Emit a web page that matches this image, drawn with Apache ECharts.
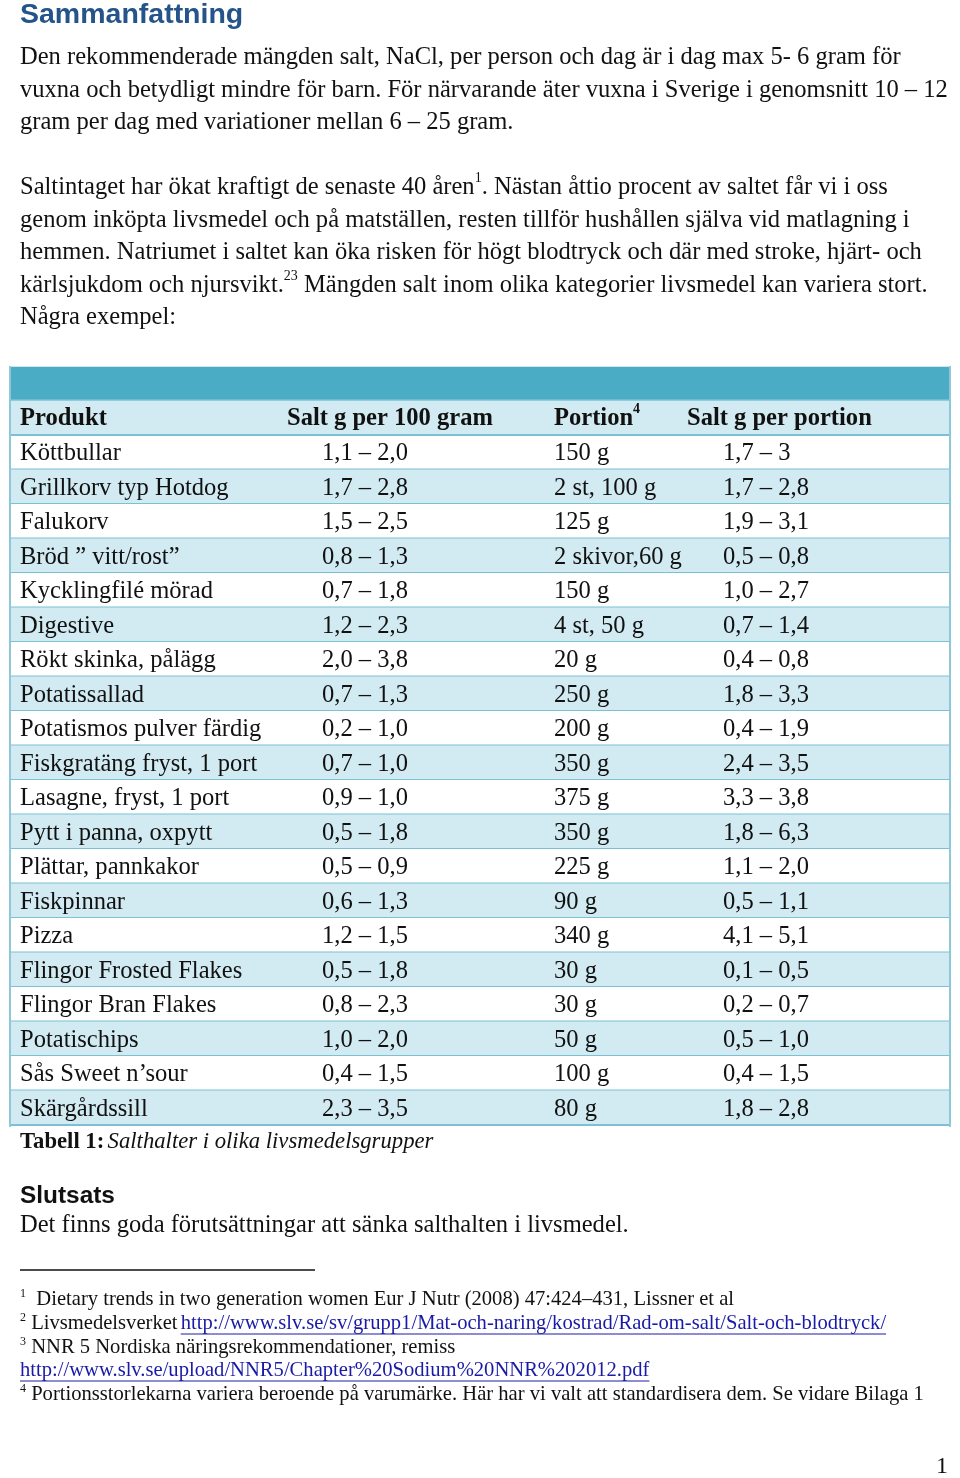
<!DOCTYPE html>
<html><head><meta charset="utf-8">
<script src="https://cdn.jsdelivr.net/npm/echarts@6/dist/echarts.min.js"></script>
<style>html,body{margin:0;padding:0;background:#fff}#c{width:960px;height:1478px}</style>
</head><body><div id="c"></div>
<script>
// ---- data ----
const products = ['Köttbullar','Grillkorv typ Hotdog','Falukorv','Bröd ” vitt/rost”','Kycklingfilé mörad','Digestive','Rökt skinka, pålägg','Potatissallad','Potatismos pulver färdig','Fiskgratäng fryst, 1 port','Lasagne, fryst, 1 port','Pytt i panna, oxpytt','Plättar, pannkakor','Fiskpinnar','Pizza','Flingor Frosted Flakes','Flingor Bran Flakes','Potatischips','Sås Sweet n’sour','Skärgårdssill'];
const saltPer100 = ['1,1 – 2,0','1,7 – 2,8','1,5 – 2,5','0,8 – 1,3','0,7 – 1,8','1,2 – 2,3','2,0 – 3,8','0,7 – 1,3','0,2 – 1,0','0,7 – 1,0','0,9 – 1,0','0,5 – 1,8','0,5 – 0,9','0,6 – 1,3','1,2 – 1,5','0,5 – 1,8','0,8 – 2,3','1,0 – 2,0','0,4 – 1,5','2,3 – 3,5'];
const portions = ['150 g','2 st, 100 g','125 g','2 skivor,60 g','150 g','4 st, 50 g','20 g','250 g','200 g','350 g','375 g','350 g','225 g','90 g','340 g','30 g','30 g','50 g','100 g','80 g'];
const saltPerPortion = ['1,7 – 3','1,7 – 2,8','1,9 – 3,1','0,5 – 0,8','1,0 – 2,7','0,7 – 1,4','0,4 – 0,8','1,8 – 3,3','0,4 – 1,9','2,4 – 3,5','3,3 – 3,8','1,8 – 6,3','1,1 – 2,0','0,5 – 1,1','4,1 – 5,1','0,1 – 0,5','0,2 – 0,7','0,5 – 1,0','0,4 – 1,5','1,8 – 2,8'];
const headers = ['Produkt','Salt g per 100 gram','Portion','Salt g per portion'];

// ---- style ----
const SERIF = '"Liberation Serif","Times New Roman",serif';
const SANS = '"Liberation Sans",Arial,sans-serif';
const FS = 24.55;
const INK = '#111';
const BAND = '#4bacc6', LIGHT = '#d2eaf1', RULE = '#7cc0d3';
const colX = [10, 312, 544, 713]; // offsets from table left
const supStyle = {fontSize: 14, fontFamily: SERIF, fill: INK, verticalAlign: 'top', lineHeight: 22};

const ctx = document.createElement('canvas').getContext('2d');
function tw(t, f){ ctx.font = f; return ctx.measureText(t).width; }

const para1 = 'Den rekommenderade mängden salt, NaCl, per person och dag är i dag max 5- 6 gram för\n' +
  'vuxna och betydligt mindre för barn. För närvarande äter vuxna i Sverige i genomsnitt 10 – 12\n' +
  'gram per dag med variationer mellan 6 – 25 gram.';
const para2 = 'Saltintaget har ökat kraftigt de senaste 40 åren{s|1}. Nästan åttio procent av saltet får vi i oss\n' +
  'genom inköpta livsmedel och på matställen, resten tillför hushållen själva vid matlagning i\n' +
  'hemmen. Natriumet i saltet kan öka risken för högt blodtryck och där med stroke, hjärt- och\n' +
  'kärlsjukdom och njursvikt.{s|23} Mängden salt inom olika kategorier livsmedel kan variera stort.\n' +
  'Några exempel:';

const FN = 20.6;
const fnFont = FN + 'px ' + SERIF;
const link1 = 'http://www.slv.se/sv/grupp1/Mat-och-naring/kostrad/Rad-om-salt/Salt-och-blodtryck/';
const link2 = 'http://www.slv.se/upload/NNR5/Chapter%20Sodium%20NNR%202012.pdf';
const fnSup = {fontSize: 12, fontFamily: SERIF, fill: INK, verticalAlign: 'top', lineHeight: 18};
const link1X = 18 + tw('2', '12px ' + SERIF) + tw(' Livsmedelsverket ', fnFont);
const LINK = '#1a1aa8';

function txt(x, y, text, font, extra){
  return Object.assign({type:'text', x, y, z: 20, style: Object.assign({text, font, fill: INK, verticalAlign:'middle'}, extra||{})});
}

const graphics = [
  txt(20, 15.5, 'Sammanfattning', 'bold 28.5px ' + SANS, {fill:'#24548a'}),
  {type:'text', x:20, y:41.75, z:20, style:{text: para1, fontSize: FS, fontFamily: SERIF, fill: INK, lineHeight: 32.5, verticalAlign:'top'}},
  {type:'text', x:20, y:171.75, z:20, style:{text: para2, fontSize: FS, fontFamily: SERIF, fill: INK, lineHeight: 32.5, verticalAlign:'top', rich:{s: supStyle}}},
  // table header
  {type:'rect', z:5, shape:{x:10, y:367, width:940, height:33}, style:{fill: BAND}},
  {type:'rect', z:5, shape:{x:10, y:400, width:940, height:35}, style:{fill: LIGHT}},
  {type:'line', z:15, shape:{x1:10, y1:366.5, x2:950, y2:366.5}, style:{stroke:'#cfe7ef', lineWidth:1}},
  {type:'line', z:15, shape:{x1:10, y1:400, x2:950, y2:400}, style:{stroke: RULE, lineWidth:1.5}},
  {type:'line', z:15, shape:{x1:10, y1:435, x2:950, y2:435}, style:{stroke: RULE, lineWidth:2}},
  {type:'line', z:15, shape:{x1:10, y1:366, x2:10, y2:1127}, style:{stroke: '#8ec8d8', lineWidth:2}},
  {type:'line', z:15, shape:{x1:950, y1:366, x2:950, y2:1127}, style:{stroke: '#8ec8d8', lineWidth:2}},
  txt(10 + colX[0], 418.5, headers[0], 'bold ' + FS + 'px ' + SERIF),
  txt(287, 418.5, headers[1], 'bold ' + FS + 'px ' + SERIF),
  {type:'text', x:554, y:418.5, z:20, style:{text: headers[2] + '{s|4}', font:'bold ' + FS + 'px ' + SERIF, fill: INK, verticalAlign:'middle', lineHeight: 32, rich:{s:{fontSize:14, fontWeight:'bold', fontFamily: SERIF, fill: INK, verticalAlign:'top', lineHeight: 20}}}},
  txt(687, 418.5, headers[3], 'bold ' + FS + 'px ' + SERIF),
  // caption
  {type:'text', x:20, y:1142, z:20, style:{text:'{b|Tabell 1:} {i|Salthalter i olika livsmedelsgrupper}', verticalAlign:'middle', fill: INK,
    rich:{b:{fontSize:22.7, fontWeight:'bold', fontFamily: SERIF, fill: INK}, i:{fontSize:22.7, fontStyle:'italic', fontFamily: SERIF, fill: INK}}}},
  txt(20, 1196.5, 'Slutsats', 'bold 24.4px ' + SANS),
  txt(20, 1226, 'Det finns goda förutsättningar att sänka salthalten i livsmedel.', FS + 'px ' + SERIF),
  // footnotes
  {type:'line', z:20, shape:{x1:20, y1:1270, x2:315, y2:1270}, style:{stroke:'#111', lineWidth:1.5}},
  {type:'text', x:20, y:1300, z:20, style:{text:'{s|1}  Dietary trends in two generation women Eur J Nutr (2008) 47:424–431, Lissner et al', font: fnFont, fill: INK, verticalAlign:'middle', lineHeight:24, rich:{s: fnSup}}},
  {type:'text', x:20, y:1324, z:20, style:{text:'{s|2} Livsmedelsverket ', font: fnFont, fill: INK, verticalAlign:'middle', lineHeight:24, rich:{s: fnSup}}},
  txt(link1X, 1324, link1, fnFont, {fill: LINK}),
  {type:'line', z:20, shape:{x1:link1X, y1:1334, x2:link1X + tw(link1, fnFont), y2:1334}, style:{stroke: LINK, lineWidth:1}},
  {type:'text', x:20, y:1348, z:20, style:{text:'{s|3} NNR 5 Nordiska näringsrekommendationer, remiss', font: fnFont, fill: INK, verticalAlign:'middle', lineHeight:24, rich:{s: fnSup}}},
  txt(20, 1371, link2, fnFont, {fill: LINK}),
  {type:'line', z:20, shape:{x1:20, y1:1381, x2:20 + tw(link2, fnFont), y2:1381}, style:{stroke: LINK, lineWidth:1}},
  {type:'text', x:20, y:1395, z:20, style:{text:'{s|4} Portionsstorlekarna variera beroende på varumärke. Här har vi valt att standardisera dem. Se vidare Bilaga 1', font: fnFont, fill: INK, verticalAlign:'middle', lineHeight:24, rich:{s: fnSup}}},
  txt(936, 1467, '1', '24px ' + SERIF)
];

const chart = echarts.init(document.getElementById('c'), null, {renderer:'canvas'});
chart.setOption({
  animation: false,
  backgroundColor: '#fff',
  grid: {left: 10, top: 435, width: 940, height: 690, containLabel: false},
  xAxis: {type: 'value', min: 0, max: 1, show: false},
  yAxis: {type: 'category', data: products, inverse: true, show: false},
  graphic: graphics,
  series: [{
    type: 'custom',
    coordinateSystem: 'cartesian2d',
    z: 10,
    data: products.map((p, i) => [0, i]),
    encode: {x: 0, y: 1},
    renderItem: function(params, api){
      const i = params.dataIndex;
      const c = api.coord([0, api.value(1)]);
      const h = api.size([0, 1])[1];
      const cs = params.coordSys;
      const top = c[1] - h / 2;
      const font = FS + 'px ' + SERIF;
      const vals = [products[i], saltPer100[i], portions[i], saltPerPortion[i]];
      const children = [
        {type:'rect', shape:{x: cs.x, y: top, width: cs.width, height: h}, style:{fill: i % 2 ? LIGHT : '#ffffff'}},
        {type:'line', shape:{x1: cs.x, y1: top + h, x2: cs.x + cs.width, y2: top + h}, style:{stroke: RULE, lineWidth: 2}}
      ];
      vals.forEach((v, k) => children.push({type:'text', x: cs.x + colX[k], y: c[1] + 1.5, style:{text: v, font, fill: INK, verticalAlign:'middle', align:'left'}}));
      return {type:'group', children};
    }
  }]
});
</script>
</body></html>
